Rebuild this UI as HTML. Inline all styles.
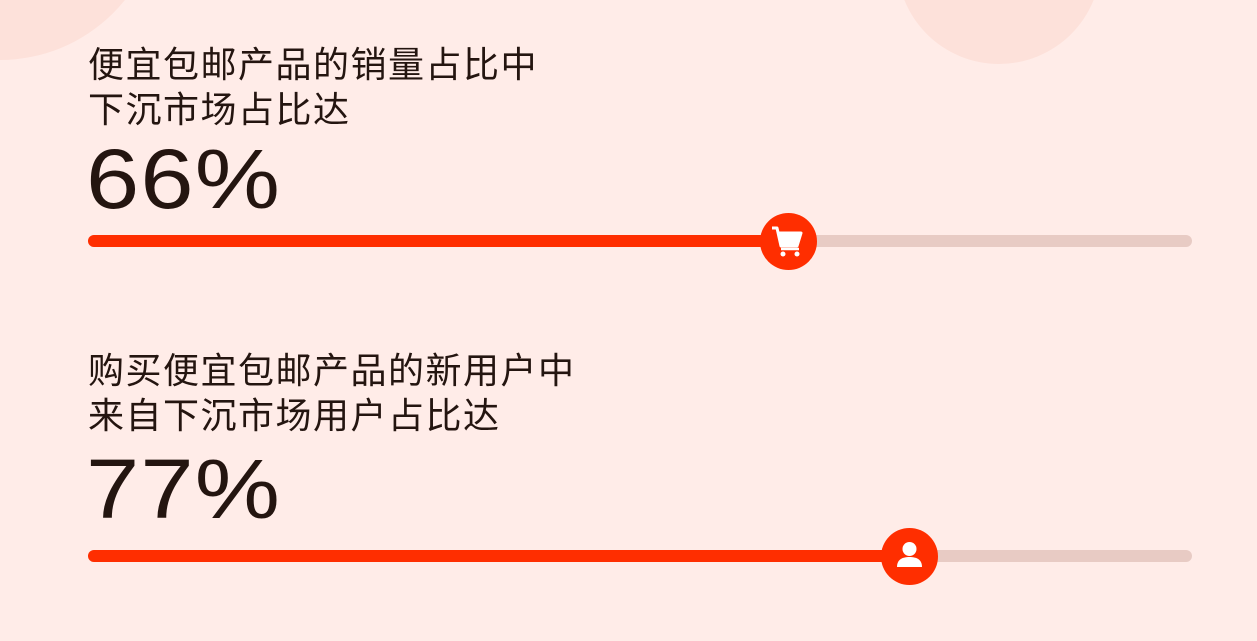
<!DOCTYPE html>
<html><head><meta charset="utf-8"><style>
html,body{margin:0;padding:0}
body{width:1257px;height:641px;background:#FFECE8;position:relative;overflow:hidden;font-family:"Liberation Sans","Noto Sans CJK SC",sans-serif;color:#241510}
.c{position:absolute;border-radius:50%;background:#FDE1DA}
.t{position:absolute;left:88px;font-size:36px;line-height:45px;letter-spacing:1.5px}
.n{position:absolute;left:86px;font-size:84px;line-height:92px;font-weight:400;transform:scaleX(1.14);transform-origin:0 0;letter-spacing:1px}
.track{position:absolute;left:88px;width:1104px;height:12px;border-radius:6px;background:#E8CBC4}
.fill{position:absolute;left:88px;height:12px;border-radius:6px;background:#FF2E00}
.k{position:absolute;width:57px;height:57px;border-radius:50%;background:#FF2E00}
</style></head><body>
<div class="c" style="left:-160px;top:-260px;width:320px;height:320px"></div>
<div class="c" style="left:897px;top:-140px;width:204px;height:204px"></div>
<div class="t" style="top:42px">便宜包邮产品的销量占比中<br>下沉市场占比达</div>
<div class="n" style="top:133px">66%</div>
<div class="track" style="top:235px"></div>
<div class="fill" style="top:235px;width:700px"></div>
<div class="k" style="left:760px;top:213px">
<svg width="57" height="57" viewBox="0 0 57 57"><path d="M12 15h5l4 18h16l4-13H19" fill="none" stroke="#fff" stroke-width="3" stroke-linejoin="round"/><path d="M19 20h22l-4 12H21z" fill="#fff"/><path d="M21 36h18" stroke="#fff" stroke-width="2.5"/><circle cx="23" cy="41" r="2.5" fill="#fff"/><circle cx="37" cy="41" r="2.5" fill="#fff"/></svg></div>
<div class="t" style="top:348px">购买便宜包邮产品的新用户中<br>来自下沉市场用户占比达</div>
<div class="n" style="top:443px">77%</div>
<div class="track" style="top:550px"></div>
<div class="fill" style="top:550px;width:821px"></div>
<div class="k" style="left:881px;top:528px">
<svg width="57" height="57" viewBox="0 0 57 57"><circle cx="28.5" cy="21" r="7" fill="#fff"/><path d="M16 39c0-8 6-10 12.5-10S41 31 41 39z" fill="#fff"/></svg></div>
</body></html>
